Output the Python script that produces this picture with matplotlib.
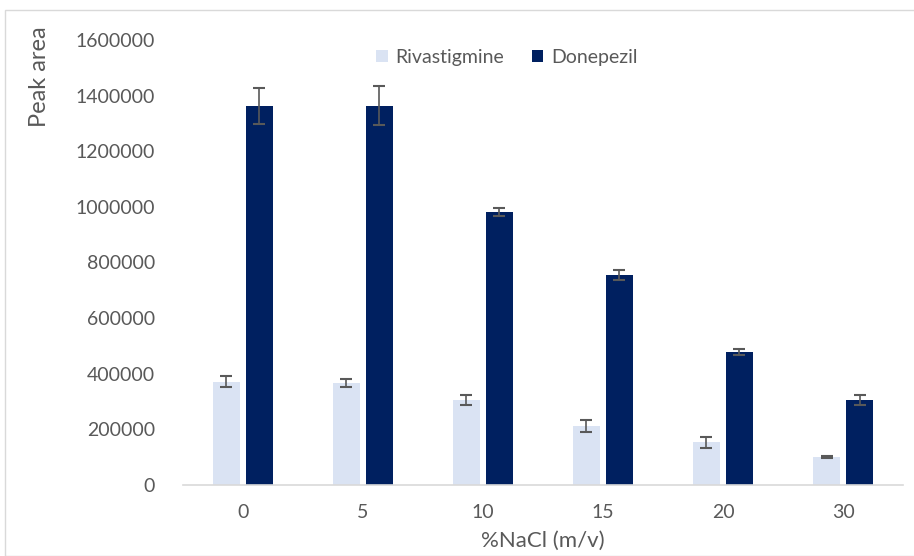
import numpy as np
import matplotlib.pyplot as plt
from matplotlib.patches import Rectangle

# NaCl levels and peak areas (mean, error)
nacl = ['0', '5', '10', '15', '20', '30']
riva = [371000, 366000, 306000, 212000, 153000, 99000]
riva_err = [20000, 13000, 18000, 22000, 19000, 3000]
done = [1363000, 1363000, 982000, 755000, 478000, 306000]
done_err = [65000, 70000, 15000, 18000, 10000, 18000]
yticks = [0, 200000, 400000, 600000, 800000, 1000000, 1200000, 1400000, 1600000]

plt.rcParams['font.family'] = ['Lato', 'DejaVu Sans']
grey = '#595959'

fig = plt.figure(figsize=(9.14, 5.56), dpi=100)
ax = fig.add_axes([0.200, 0.128, 0.788, 0.800])

x = np.arange(len(nacl))
w = 0.225
off = 0.1375
ax.bar(x - off, riva, w, color='#DAE3F3', label='Rivastigmine', zorder=2)
ax.bar(x + off, done, w, color='#002060', label='Donepezil', zorder=2)
ax.errorbar(x - off, riva, yerr=riva_err, fmt='none', ecolor=grey,
            elinewidth=1.2, capsize=4, capthick=1.5, zorder=3)
ax.errorbar(x + off, done, yerr=done_err, fmt='none', ecolor=grey,
            elinewidth=1.2, capsize=4, capthick=1.5, zorder=3)

ax.set_xlim(-0.5, len(nacl) - 0.5)
ax.set_ylim(0, 1600000)
ax.set_yticks(yticks)
ax.set_yticklabels([str(v) for v in yticks])
ax.set_xticks(x)
ax.set_xticklabels(nacl)
ax.tick_params(axis='both', length=0, labelsize=14, colors=grey)
ax.tick_params(axis='y', pad=20)
ax.tick_params(axis='x', pad=14)
for s in ['top', 'right', 'left']:
    ax.spines[s].set_visible(False)
ax.spines['bottom'].set_color('#D9D9D9')
ax.spines['bottom'].set_linewidth(1.2)

ax.set_xlabel('%NaCl (m/v)', fontsize=16, color=grey, labelpad=7)
fig.text(40 / 914, 1 - 77 / 556, 'Peak area', rotation=90, fontsize=17,
         color=grey, ha='center', va='center')

leg = ax.legend(loc='upper center', bbox_to_anchor=(0.45, 1.02), ncol=2,
                frameon=False, fontsize=14, handlelength=0.6, handleheight=0.6,
                handletextpad=0.4, columnspacing=1.4)
for t in leg.get_texts():
    t.set_color(grey)

# outer chart border
fig.patches.append(Rectangle((5 / 914, 0.0), 1.0, 1 - 10 / 556,
                             transform=fig.transFigure, fill=False,
                             edgecolor='#D9D9D9', linewidth=1))

fig.savefig('out.png', dpi=100)
